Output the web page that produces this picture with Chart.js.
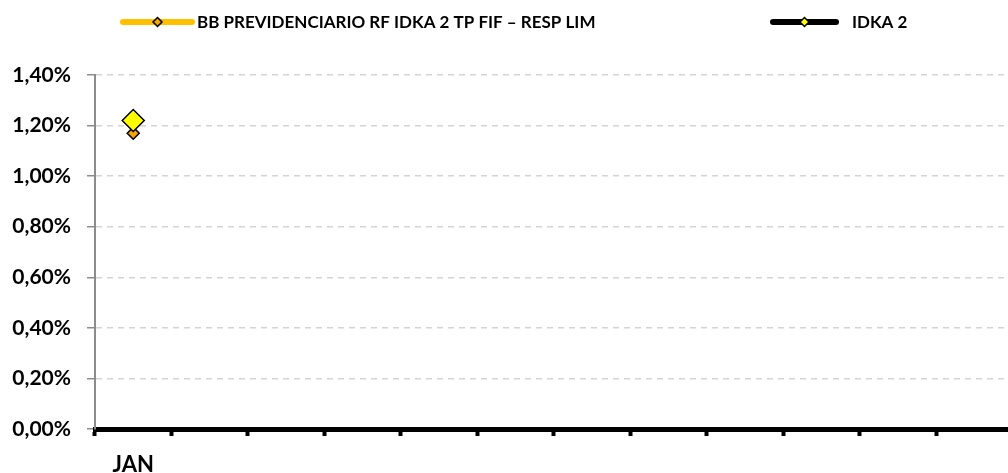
<!DOCTYPE html>
<html>
<head>
<meta charset="utf-8">
<script src="https://cdn.jsdelivr.net/npm/chart.js@4.4.1/dist/chart.umd.min.js"></script>
<style>
  html, body { margin: 0; padding: 0; background: #fff; overflow: hidden; }
  #grafico { display: block; }
</style>
</head>
<body>
<canvas id="grafico" width="1025" height="473"></canvas>
<script>
// dados
const meses = ["JAN", "", "", "", "", "", "", "", "", "", "", ""];
const fundoBB = [1.17, null, null, null, null, null, null, null, null, null, null, null];
const idka2 = [1.22, null, null, null, null, null, null, null, null, null, null, null];
const nomeFundo = "BB PREVIDENCIARIO RF IDKA 2 TP FIF – RESP LIM";
const nomeIndice = "IDKA 2";
const yMin = 0, yMax = 1.4, yPasso = 0.2;

const fonte = "Lato, 'Open Sans', sans-serif";

function losango(ctx, x, y, r, cor) {
  ctx.beginPath();
  ctx.moveTo(x, y - r);
  ctx.lineTo(x + r, y);
  ctx.lineTo(x, y + r);
  ctx.lineTo(x - r, y);
  ctx.closePath();
  ctx.fillStyle = cor;
  ctx.fill();
  ctx.lineWidth = 1.5;
  ctx.strokeStyle = "#000";
  ctx.stroke();
}

// legenda desenhada à mão (linha + marcador, como no Excel)
const legendaExcel = {
  id: "legendaExcel",
  afterDraw(chart) {
    const ctx = chart.ctx;
    const itens = [
      { x1: 123, x2: 192, cor: "#FFC000", ponto: "#F5A500", tx: 197, texto: chart.data.datasets[1].label },
      { x1: 773, x2: 836, cor: "#000000", ponto: "#FFFF00", tx: 852, texto: chart.data.datasets[0].label },
    ];
    const y = 22;
    ctx.save();
    for (const it of itens) {
      ctx.beginPath();
      ctx.moveTo(it.x1, y);
      ctx.lineTo(it.x2, y);
      ctx.lineWidth = 6;
      ctx.lineCap = "round";
      ctx.strokeStyle = it.cor;
      ctx.stroke();
      losango(ctx, (it.x1 + it.x2) / 2, y, 4.5, it.ponto);
      ctx.fillStyle = "#000";
      ctx.font = "bold 17px " + fonte;
      ctx.textAlign = "left";
      ctx.textBaseline = "middle";
      ctx.fillText(it.texto, it.tx, y + 1);
    }
    ctx.restore();
  },
};

new Chart(document.getElementById("grafico").getContext("2d"), {
  type: "line",
  data: {
    labels: meses,
    datasets: [
      { label: nomeIndice, data: idka2, order: 0, borderColor: "#000", borderWidth: 5, pointStyle: "rectRot", pointRadius: 11, pointBackgroundColor: "#FFFF00", pointBorderColor: "#000", pointBorderWidth: 1.5 },
      { label: nomeFundo, data: fundoBB, order: 1, borderColor: "#FFC000", borderWidth: 5, pointStyle: "rectRot", pointRadius: 6, pointBackgroundColor: "#F5A500", pointBorderColor: "#000", pointBorderWidth: 1.5 },
    ],
  },
  options: {
    responsive: false,
    animation: false,
    layout: { padding: { top: 75, right: 0, bottom: 0, left: 0 } },
    plugins: { legend: { display: false }, tooltip: { enabled: false } },
    scales: {
      x: {
        offset: true,
        grid: { offset: true, drawOnChartArea: false, drawTicks: true, tickLength: 7, tickWidth: 4, tickColor: "#000" },
        border: { color: "#000", width: 5 },
        ticks: { color: "#000", font: { family: fonte, size: 22, weight: "bold" }, padding: 16, autoSkip: false, maxRotation: 0 },
        afterFit: (s) => { s.height = 44; },
      },
      y: {
        min: yMin,
        max: yMax,
        ticks: { stepSize: yPasso, color: "#000", padding: 16, font: { family: fonte, size: 21, weight: "bold" }, callback: (v) => v.toFixed(2).replace(".", ",") + "%" },
        grid: { color: "#d4d4d4", tickColor: "#8c8c8c", tickLength: 8, lineWidth: 1.5 },
        border: { color: "#8c8c8c", width: 2, dash: [6, 5] },
        afterFit: (s) => { s.width = 95; },
      },
    },
  },
  plugins: [legendaExcel],
});
</script>
</body>
</html>
